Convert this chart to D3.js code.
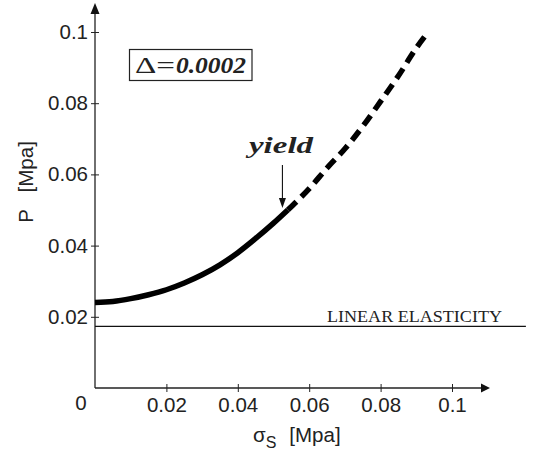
<!DOCTYPE html>
<meta charset="utf-8">
<head>
  <title>P vs sigma_s</title>
  <style>
    body { margin: 0; background: #fff; }
    svg { display: block; background: #fff; }
    .tick text { font: 20.5px "Liberation Sans", Arial, sans-serif; fill: #222; }
    .lbl { font: 20.5px "Liberation Sans", Arial, sans-serif; fill: #222; }
    .serif { font-family: "Liberation Serif", "Times New Roman", serif; fill: #222; }
  </style>
</head>
<body>
<script src="https://cdn.jsdelivr.net/npm/d3@7"></script>
<script>

// data
var solidSigma = [0, 0.005, 0.010, 0.015, 0.020, 0.025, 0.030, 0.035, 0.040, 0.045, 0.050, 0.054];
var solidP     = [0.0240, 0.0243, 0.0251, 0.0262, 0.0276, 0.0295, 0.0318, 0.0346, 0.0380, 0.0420, 0.0463, 0.0500];
var dashSigma  = [0.054, 0.060, 0.065, 0.070, 0.075, 0.080, 0.085, 0.090, 0.0932];
var dashP      = [0.0500, 0.0560, 0.0618, 0.0672, 0.0735, 0.0805, 0.0877, 0.0955, 0.0998];
var linearSigma = [0, 0.1207];
var linearP = 0.0173;
var xTicks = [0.02, 0.04, 0.06, 0.08, 0.1];
var yTicks = [0.02, 0.04, 0.06, 0.08, 0.1];
var yieldSigma = 0.0525;

var width = 536, height = 451;

var x = d3.scaleLinear().domain([0, 0.1]).range([95, 452]);
var y = d3.scaleLinear().domain([0, 0.1]).range([388, 32]);

var svg = d3.select("body").append("svg")
    .attr("width", width)
    .attr("height", height);

var fmt = function(d) { return d === 0.1 ? "0.1" : d3.format(".2f")(d); };

// x axis
var gx = svg.append("g")
    .attr("transform", "translate(0," + y(0) + ")")
    .call(d3.axisBottom(x).tickValues(xTicks).tickFormat(fmt).tickSize(4).tickPadding(5));
gx.select(".domain").remove();
gx.selectAll(".tick line").attr("y1", -4).attr("y2", 4).attr("stroke", "#222");
gx.append("line").attr("x1", x(0)).attr("x2", 482).attr("stroke", "#222").attr("stroke-width", 1.3);
gx.append("path").attr("d", "M481,-4.5L490,0L481,4.5Z").attr("fill", "#111");

// y axis
var gy = svg.append("g")
    .attr("transform", "translate(" + x(0) + ",0)")
    .call(d3.axisLeft(y).tickValues(yTicks).tickFormat(fmt).tickSize(4).tickPadding(3));
gy.select(".domain").remove();
gy.selectAll(".tick line").attr("x1", -4).attr("x2", 4).attr("stroke", "#222");
gy.append("line").attr("y1", y(0)).attr("y2", 12).attr("stroke", "#222").attr("stroke-width", 1.3);
gy.append("path").attr("d", "M-4.5,14L0,3L4.5,14Z").attr("fill", "#111");

// origin label
svg.append("text").attr("class", "lbl")
    .attr("x", 81).attr("y", 410)
    .attr("text-anchor", "middle")
    .text("0");

// axis titles
svg.append("text").attr("class", "lbl")
    .attr("transform", "translate(33,182) rotate(-90)")
    .attr("text-anchor", "middle")
    .attr("xml:space", "preserve")
    .text("P   [Mpa]");

var xt = svg.append("text").attr("class", "lbl")
    .attr("x", 253).attr("y", 442);
xt.append("tspan").text("\u03c3");
xt.append("tspan").attr("dy", 6).style("font-size", "16px").text("S");
xt.append("tspan").attr("dy", -6).attr("dx", 13).text("[Mpa]");

// linear elasticity
svg.append("line")
    .attr("x1", x(linearSigma[0])).attr("x2", x(linearSigma[1]))
    .attr("y1", y(linearP)).attr("y2", y(linearP))
    .attr("stroke", "#111").attr("stroke-width", 1.1);
svg.append("text").attr("class", "serif")
    .attr("x", 327).attr("y", 322)
    .attr("textLength", 175).attr("lengthAdjust", "spacingAndGlyphs")
    .style("font-size", "16.5px")
    .text("LINEAR ELASTICITY");

// curves
var line = d3.line()
    .x(function(d) { return x(d[0]); })
    .y(function(d) { return y(d[1]); })
    .curve(d3.curveMonotoneX);

svg.append("path")
    .datum(solidSigma.map(function(s, i) { return [s, solidP[i]]; }))
    .attr("d", line)
    .attr("fill", "none").attr("stroke", "#000").attr("stroke-width", 5.5);

svg.append("path")
    .datum(dashSigma.map(function(s, i) { return [s, dashP[i]]; }))
    .attr("d", line)
    .attr("fill", "none").attr("stroke", "#000").attr("stroke-width", 5.5)
    .attr("stroke-dasharray", "12,7");

// yield annotation
var yx = x(yieldSigma);
svg.append("line")
    .attr("x1", yx).attr("x2", yx).attr("y1", 165).attr("y2", 200)
    .attr("stroke", "#111").attr("stroke-width", 1.1);
svg.append("path")
    .attr("d", "M" + (yx - 3.5) + ",198L" + yx + ",208L" + (yx + 3.5) + ",198Z")
    .attr("fill", "#111");
svg.append("text").attr("class", "serif")
    .attr("x", 249).attr("y", 153)
    .attr("textLength", 64).attr("lengthAdjust", "spacingAndGlyphs")
    .style("font-size", "23px").style("font-weight", "bold").style("font-style", "italic")
    .text("yield");

// delta box
svg.append("rect")
    .attr("x", 129.5).attr("y", 49.5).attr("width", 122.5).attr("height", 31)
    .attr("fill", "none").attr("stroke", "#222").attr("stroke-width", 1.2);
var dt = svg.append("text").attr("class", "serif")
    .attr("y", 73)
    .style("font-size", "24px");
dt.append("tspan").attr("x", 135).attr("textLength", 40).attr("lengthAdjust", "spacingAndGlyphs").text("\u0394=");
dt.append("tspan").attr("x", 176).attr("textLength", 70).attr("lengthAdjust", "spacingAndGlyphs")
    .style("font-weight", "bold").style("font-style", "italic").text("0.0002");

</script>
</body>
